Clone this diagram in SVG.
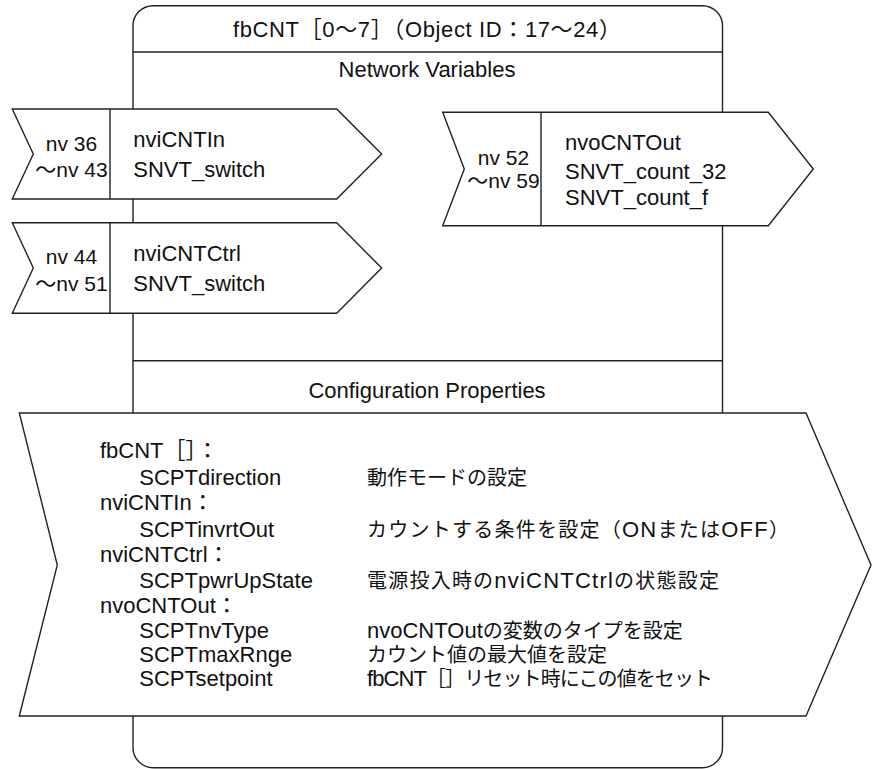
<svg xmlns="http://www.w3.org/2000/svg" width="872" height="769" viewBox="0 0 872 769">
<style>
.ln{fill:#fff;stroke:#222;stroke-width:1.4;stroke-linejoin:miter}
.sep{fill:none;stroke:#222;stroke-width:1.4}
.t{font-family:"Liberation Sans","Noto Sans CJK JP",sans-serif;font-size:22px;fill:#111}
.n{font-size:21px}
.m{text-anchor:middle}
.j{font-size:20px}
.l{font-size:22px}
</style>
<g id="fbCNT-frame">
<rect class="ln" x="133" y="5.7" width="589.5" height="762" rx="20" ry="20"/>
<line class="sep" x1="133" y1="52" x2="722.5" y2="52"/>
<line class="sep" x1="133" y1="360.7" x2="722.5" y2="360.7"/>
<text class="t m" x="427" y="37" textLength="388" lengthAdjust="spacing">fbCNT［0～7］（Object ID：17～24）</text>
<text class="t m" x="427" y="77">Network Variables</text>
<text class="t m" x="427" y="398">Configuration Properties</text>
</g>
<g id="connectors"></g>
<g id="nviCNTIn">
<polygon class="ln" points="12.3,109 336.7,109 381.7,154 336.7,199 12.3,199 33.3,154"/>
<line class="sep" x1="110" y1="109" x2="110" y2="199"/>
<text class="t n m" x="71.5" y="150.7">nv 36</text>
<text class="t n m" x="71.5" y="177.3">～nv 43</text>
<text class="t" x="133.3" y="147.3">nviCNTIn</text>
<text class="t" x="133.3" y="177.3">SNVT_switch</text>
</g>
<g id="nviCNTCtrl">
<polygon class="ln" points="12.3,222.7 336.7,222.7 381.7,268 336.7,313.3 12.3,313.3 33.3,268"/>
<line class="sep" x1="110" y1="222.7" x2="110" y2="313.3"/>
<text class="t n m" x="71.5" y="264">nv 44</text>
<text class="t n m" x="71.5" y="290.7">～nv 51</text>
<text class="t" x="133.3" y="260.7">nviCNTCtrl</text>
<text class="t" x="133.3" y="290.7">SNVT_switch</text>
</g>
<g id="nvoCNTOut">
<polygon class="ln" points="442.7,112.3 768.3,112.3 813.3,169 768.3,225.7 442.7,225.7 464.3,169"/>
<line class="sep" x1="541" y1="112.3" x2="541" y2="225.7"/>
<text class="t n m" x="503.5" y="165">nv 52</text>
<text class="t n m" x="503.5" y="188.3">～nv 59</text>
<text class="t" x="565" y="150">nvoCNTOut</text>
<text class="t" x="565" y="179">SNVT_count_32</text>
<text class="t" x="565" y="205">SNVT_count_f</text>
</g>
<g id="config-properties">
<polygon class="ln" points="19.3,413 806,413 871,565 806,716 19.3,716 57.3,565"/>
<text class="t" x="100" y="457.7">fbCNT［］：</text>
<text class="t" x="139.3" y="485">SCPTdirection</text>
<text class="t j" x="367" y="485">動作モードの設定</text>
<text class="t" x="100" y="510">nviCNTIn：</text>
<text class="t" x="139.3" y="536.7">SCPTinvrtOut</text>
<text class="t j" x="367" y="536.7" textLength="422" lengthAdjust="spacing">カウントする条件を設定（<tspan class="l">ON</tspan>または<tspan class="l">OFF</tspan>）</text>
<text class="t" x="100" y="561.7">nviCNTCtrl：</text>
<text class="t" x="139.3" y="588.3">SCPTpwrUpState</text>
<text class="t j" x="367" y="588.3" textLength="352" lengthAdjust="spacing">電源投入時の<tspan class="l">nviCNTCtrl</tspan>の状態設定</text>
<text class="t" x="100" y="613.3">nvoCNTOut：</text>
<text class="t" x="139.3" y="638.3">SCPTnvType</text>
<text class="t j" x="367" y="638.3"><tspan class="l">nvoCNTOut</tspan>の変数のタイプを設定</text>
<text class="t" x="139.3" y="661.7">SCPTmaxRnge</text>
<text class="t j" x="367" y="661.7">カウント値の最大値を設定</text>
<text class="t" x="139.3" y="685.7">SCPTsetpoint</text>
<text class="t j" x="367" y="685.7" textLength="346" lengthAdjust="spacing"><tspan class="l">fbCNT</tspan>［］リセット時にこの値をセット</text>
</g>
</svg>
